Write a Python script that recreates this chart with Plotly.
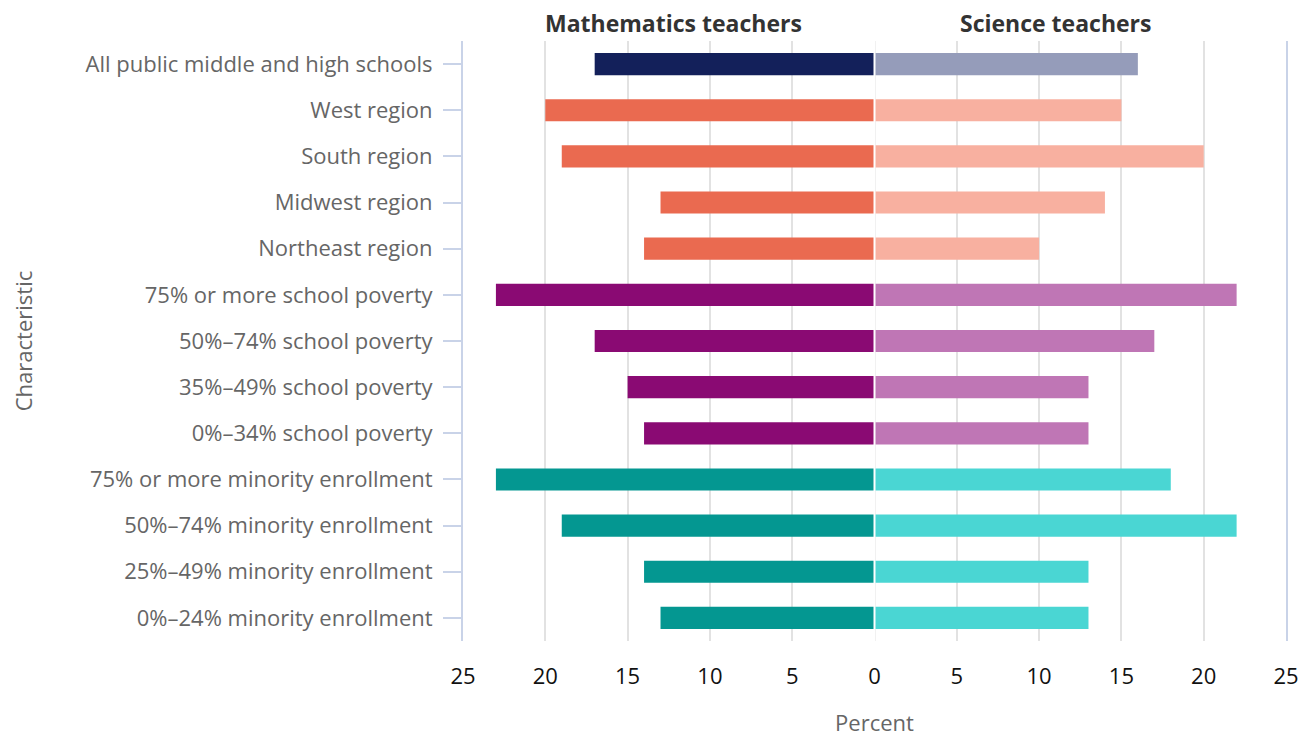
import plotly.graph_objects as go

categories = [
    "All public middle and high schools",
    "West region",
    "South region",
    "Midwest region",
    "Northeast region",
    "75% or more school poverty",
    "50%–74% school poverty",
    "35%–49% school poverty",
    "0%–34% school poverty",
    "75% or more minority enrollment",
    "50%–74% minority enrollment",
    "25%–49% minority enrollment",
    "0%–24% minority enrollment",
]
math_values = [17, 20, 19, 13, 14, 23, 17, 15, 14, 23, 19, 14, 13]
science_values = [16, 15, 20, 14, 10, 22, 17, 13, 13, 18, 22, 13, 13]
groups = ["all"] + ["region"] * 4 + ["poverty"] * 4 + ["minority"] * 4

math_colors = {"all": "#13205a", "region": "#ea6a50", "poverty": "#8a0a73", "minority": "#049791"}
science_colors = {"all": "#959cba", "region": "#f8b0a0", "poverty": "#bf76b5", "minority": "#4ad6d3"}

tick_values = [-25, -20, -15, -10, -5, 0, 5, 10, 15, 20, 25]
tick_labels = [str(abs(v)) for v in tick_values]

fig = go.Figure()
fig.add_trace(go.Bar(
    y=categories, x=[-v for v in math_values], orientation="h",
    marker=dict(color=[math_colors[g] for g in groups], line=dict(width=0)),
    width=0.48, name="Mathematics teachers", showlegend=False,
))
fig.add_trace(go.Bar(
    y=categories, x=science_values, orientation="h",
    marker=dict(color=[science_colors[g] for g in groups], line=dict(width=0)),
    width=0.48, name="Science teachers", showlegend=False,
))

fig.add_shape(type="line", x0=0, x1=0, y0=0, y1=1, yref="paper", xref="x",
              line=dict(color="white", width=2), layer="above")

fig.add_annotation(x=-12.2, y=1.0, xref="x", yref="paper", yanchor="bottom", yshift=1,
                   text="<b>Mathematics teachers</b>", showarrow=False, borderpad=0,
                   font=dict(family="Open Sans", size=23, color="#333333"))
fig.add_annotation(x=11.0, y=1.0, xref="x", yref="paper", yanchor="bottom", yshift=1,
                   text="<b>Science teachers</b>", showarrow=False, borderpad=0,
                   font=dict(family="Open Sans", size=23, color="#333333"))

fig.update_layout(
    width=1312, height=739,
    margin=dict(l=453, r=34, t=33, b=106),
    plot_bgcolor="white", paper_bgcolor="white",
    barmode="overlay",
    font=dict(family="Open Sans", color="#666666"),
    xaxis=dict(
        range=[-25, 25], tickvals=tick_values, ticktext=tick_labels,
        showgrid=True, gridcolor="#e2e2e2", gridwidth=2, zeroline=False,
        ticks="outside", ticklen=16, tickcolor="rgba(0,0,0,0)",
        tickfont=dict(size=22, color="#111111"),
        title=dict(text="Percent", font=dict(size=22, color="#666666"), standoff=26),
        showline=False,
    ),
    yaxis=dict(
        categoryorder="array", categoryarray=categories, autorange="reversed",
        showline=True, mirror=True, linecolor="#c9d3e8", linewidth=2,
        ticks="outside", ticklen=18, tickcolor="#c9d3e8", tickwidth=2,
        ticklabelstandoff=6,
        tickfont=dict(size=22, color="#666666"),
        showgrid=False,
        title=dict(text="Characteristic", font=dict(size=22, color="#666666"), standoff=50),
    ),
)

fig.write_html("out.html")
